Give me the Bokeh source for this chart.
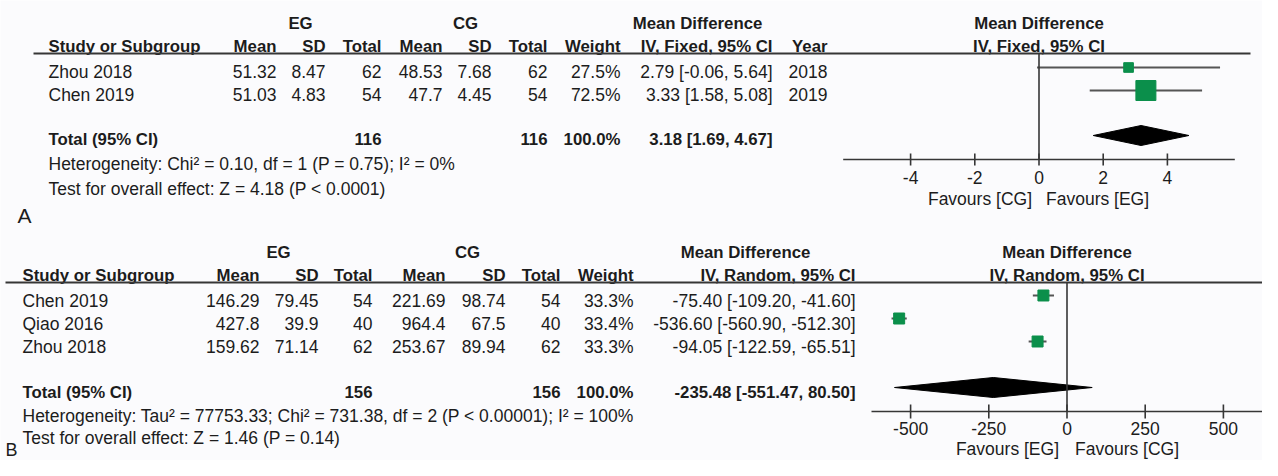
from bokeh.plotting import figure
from bokeh.models import Range1d
from bokeh.core.properties import value
from bokeh.embed import file_html
from bokeh.resources import INLINE

# ---------------- Panel A data ----------------
a_study = ["Zhou 2018", "Chen 2019"]
a_eg_mean = ["51.32", "51.03"]
a_eg_sd = ["8.47", "4.83"]
a_eg_n = [62, 54]
a_cg_mean = ["48.53", "47.7"]
a_cg_sd = ["7.68", "4.45"]
a_cg_n = [62, 54]
a_weight = [27.5, 72.5]
a_md = [2.79, 3.33]
a_lo = [-0.06, 1.58]
a_hi = [5.64, 5.08]
a_year = [2018, 2019]
a_total_eg = 116
a_total_cg = 116
a_total = [3.18, 1.69, 4.67]
a_het = "Heterogeneity: Chi\u00b2 = 0.10, df = 1 (P = 0.75); I\u00b2 = 0%"
a_test = "Test for overall effect: Z = 4.18 (P < 0.0001)"
a_ticks = [-4, -2, 0, 2, 4]
a_fav = ["Favours [CG]", "Favours [EG]"]
a_method = "IV, Fixed, 95% CI"

# ---------------- Panel B data ----------------
b_study = ["Chen 2019", "Qiao 2016", "Zhou 2018"]
b_eg_mean = ["146.29", "427.8", "159.62"]
b_eg_sd = ["79.45", "39.9", "71.14"]
b_eg_n = [54, 40, 62]
b_cg_mean = ["221.69", "964.4", "253.67"]
b_cg_sd = ["98.74", "67.5", "89.94"]
b_cg_n = [54, 40, 62]
b_weight = [33.3, 33.4, 33.3]
b_md = [-75.40, -536.60, -94.05]
b_lo = [-109.20, -560.90, -122.59]
b_hi = [-41.60, -512.30, -65.51]
b_total_eg = 156
b_total_cg = 156
b_total = [-235.48, -551.47, 80.50]
b_het = "Heterogeneity: Tau\u00b2 = 77753.33; Chi\u00b2 = 731.38, df = 2 (P < 0.00001); I\u00b2 = 100%"
b_test = "Test for overall effect: Z = 1.46 (P = 0.14)"
b_ticks = [-500, -250, 0, 250, 500]
b_fav = ["Favours [EG]", "Favours [CG]"]
b_method = "IV, Random, 95% CI"

# ---------------- layout / style ----------------
W, H = 1262, 460
FONT = value("Liberation Sans")
TXT = "#1c1c1c"
LINE = "#363636"
CI_COL = "#555555"
GREEN = "#0b8f4b"
FS = 17.5
FSB = 16.8
TEXT_SHIFT = -6.0

LA = dict(top=23, hdr=46, line=53, rows=[71, 94], total=139, het=163, test=188,
          left=48, line_x0=33, line_x1=1250,
          cols=dict(eg_mean=276, eg_sd=325, eg_n=381, cg_mean=442, cg_sd=491, cg_n=547,
                    weight=620, ci=772, year=827),
          eg_c=300, cg_c=465, md_c=697,
          zero_px=1038.5, px_per=32.1, axis_y=159, axis_ext=6.1, tick_half=6,
          ticklab_y=177, fav_y=198, fav_gap=7, marker_dy=-4, diamond_h=10, max_size=20,
          label="A", label_x=17, label_y=214, label_size=21)
LB = dict(top=252, hdr=275, line=282, rows=[300, 323, 346], total=392, het=415, test=437,
          left=22, line_x0=5, line_x1=1278,
          cols=dict(eg_mean=259, eg_sd=318, eg_n=372, cg_mean=445, cg_sd=505, cg_n=560,
                    weight=633, ci=855),
          eg_c=278, cg_c=467, md_c=745,
          zero_px=1066.5, px_per=0.3128, axis_y=411, axis_ext=625, tick_half=7,
          ticklab_y=428, fav_y=448, fav_gap=8, marker_dy=-5, diamond_h=10, max_size=11,
          label="B", label_x=5, label_y=449, label_size=18)

p = figure(width=W, height=H, x_range=Range1d(0, W), y_range=Range1d(H, 0),
           output_backend="svg", toolbar_location=None, min_border=0, title=None)
p.axis.visible = False
p.grid.visible = False
p.outline_line_color = None
p.background_fill_color = "#fbfbfd"
p.border_fill_color = "#fbfbfd"


def txt(xs, ys, texts, align="left", bold=False, size=None, rname="default"):
    size = size if size is not None else (FSB if bold else FS)
    off = 0.355 * size + TEXT_SHIFT
    p.text(x=list(xs), y=[y + off for y in ys], text=list(texts),
           text_align=align, text_baseline="alphabetic",
           text_font=FONT, text_font_size=value(f"{size}px"),
           text_font_style="bold" if bold else "normal",
           text_color=TXT, x_range_name=rname)


def fmt_ci(m, lo, hi):
    return f"{m:.2f} [{lo:.2f}, {hi:.2f}]"


def panel(L, rname, study, egm, egs, egn, cgm, cgs, cgn, wt, md, lo, hi, tot_eg, tot_cg,
          tot, het, test, ticks, fav, method, year=None):
    p.extra_x_ranges[rname] = Range1d((0 - L["zero_px"]) / L["px_per"],
                                      (W - L["zero_px"]) / L["px_per"])
    c = L["cols"]
    # group headers
    txt([L["eg_c"], L["cg_c"], L["md_c"]], [L["top"]] * 3, ["EG", "CG", "Mean Difference"],
        align="center", bold=True)
    txt([0, 0], [L["top"], L["hdr"]], ["Mean Difference", method], align="center", bold=True,
        rname=rname)
    txt([L["left"]], [L["hdr"]], ["Study or Subgroup"], bold=True)
    hx = [c["eg_mean"], c["eg_sd"], c["eg_n"], c["cg_mean"], c["cg_sd"], c["cg_n"],
          c["weight"], c["ci"]]
    ht = ["Mean", "SD", "Total", "Mean", "SD", "Total", "Weight", method]
    if year is not None:
        hx.append(c["year"])
        ht.append("Year")
    txt(hx, [L["hdr"]] * len(hx), ht, align="right", bold=True)
    p.segment(x0=[L["line_x0"]], x1=[L["line_x1"]], y0=[L["line"]], y1=[L["line"]],
              line_color=LINE, line_width=2)
    rows = L["rows"]
    n = len(study)
    txt([L["left"]] * n, rows, study)
    cols = [(c["eg_mean"], egm), (c["eg_sd"], egs), (c["eg_n"], [str(v) for v in egn]),
            (c["cg_mean"], cgm), (c["cg_sd"], cgs), (c["cg_n"], [str(v) for v in cgn]),
            (c["weight"], [f"{w:.1f}%" for w in wt]),
            (c["ci"], [fmt_ci(m, l, h) for m, l, h in zip(md, lo, hi)])]
    if year is not None:
        cols.append((c["year"], [str(y) for y in year]))
    for x, vals in cols:
        txt([x] * n, rows, vals, align="right")
    # totals
    txt([L["left"]], [L["total"]], ["Total (95% CI)"], bold=True)
    txt([c["eg_n"], c["cg_n"], c["weight"], c["ci"]], [L["total"]] * 4,
        [str(tot_eg), str(tot_cg), f"{sum(wt):.1f}%", fmt_ci(*tot)], align="right", bold=True)
    txt([L["left"], L["left"]], [L["het"], L["test"]], [het, test])
    txt([L["label_x"]], [L["label_y"]], [L["label"]], size=L["label_size"])

    # forest plot
    ym = [r + L["marker_dy"] for r in rows]
    p.segment(x0=lo, x1=hi, y0=ym, y1=ym, line_color=CI_COL, line_width=2, x_range_name=rname)
    wmax = max(wt)
    sizes = [L["max_size"] * (w / wmax) ** 0.75 for w in wt]
    p.scatter(x=md, y=ym, size=sizes, marker="square", fill_color=GREEN, line_color=GREEN,
              x_range_name=rname)
    yd = L["total"] + L["marker_dy"]
    h = L["diamond_h"]
    p.patches(xs=[[tot[1], tot[0], tot[2], tot[0]]], ys=[[yd, yd - h, yd, yd + h]],
              fill_color="black", line_color="black", x_range_name=rname)
    ay = L["axis_y"]
    p.segment(x0=[0], x1=[0], y0=[L["line"]], y1=[ay], line_color=LINE, line_width=1.6,
              x_range_name=rname)
    p.segment(x0=[-L["axis_ext"]], x1=[L["axis_ext"]], y0=[ay], y1=[ay], line_color=LINE,
              line_width=1.6, x_range_name=rname)
    th = L["tick_half"]
    p.segment(x0=ticks, x1=ticks, y0=[ay - th] * len(ticks), y1=[ay + th] * len(ticks),
              line_color=LINE, line_width=1.6, x_range_name=rname)
    txt(ticks, [L["ticklab_y"]] * len(ticks), [str(t) for t in ticks], align="center",
        rname=rname)
    g = L["fav_gap"] / L["px_per"]
    txt([-g], [L["fav_y"]], [fav[0]], align="right", rname=rname)
    txt([g], [L["fav_y"]], [fav[1]], align="left", rname=rname)


panel(LA, "fa", a_study, a_eg_mean, a_eg_sd, a_eg_n, a_cg_mean, a_cg_sd, a_cg_n, a_weight,
      a_md, a_lo, a_hi, a_total_eg, a_total_cg, a_total, a_het, a_test, a_ticks, a_fav,
      a_method, year=a_year)
panel(LB, "fb", b_study, b_eg_mean, b_eg_sd, b_eg_n, b_cg_mean, b_cg_sd, b_cg_n, b_weight,
      b_md, b_lo, b_hi, b_total_eg, b_total_cg, b_total, b_het, b_test, b_ticks, b_fav,
      b_method)

open("out.html", "w").write(file_html(p, INLINE))
